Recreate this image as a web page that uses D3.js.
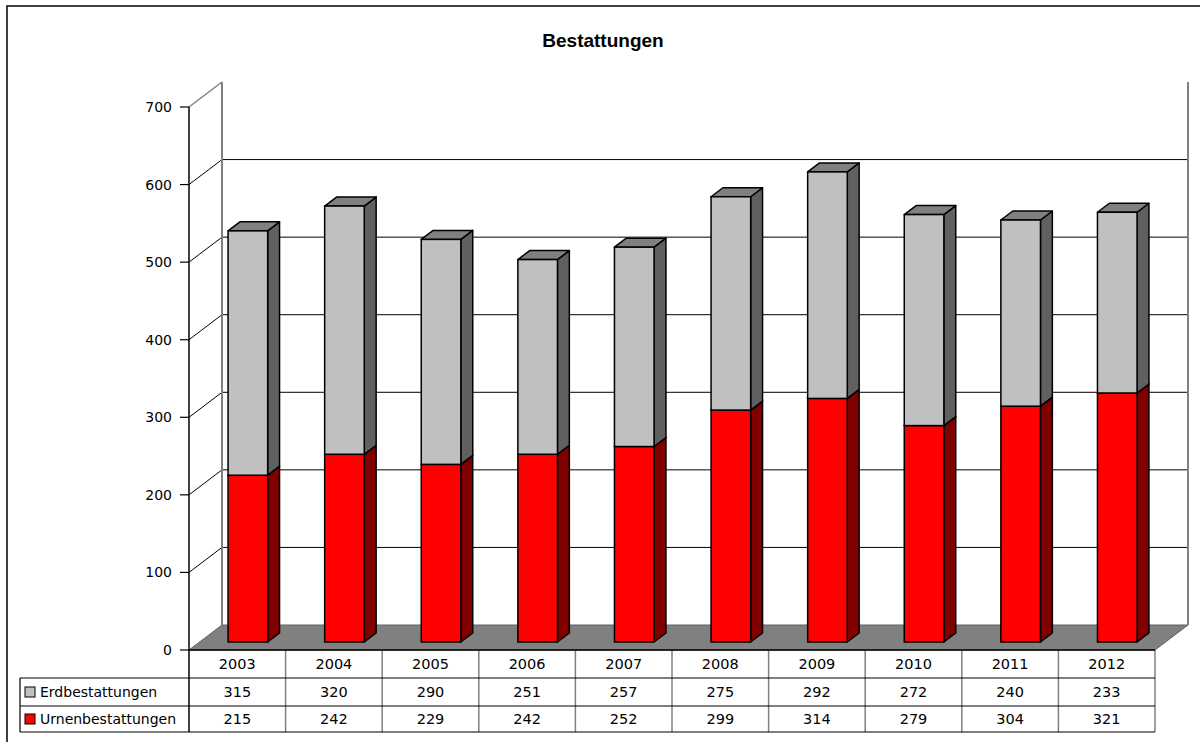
<!DOCTYPE html>
<html>
<head>
<meta charset="utf-8">
<script src="https://cdn.jsdelivr.net/npm/d3@7"></script>
<style>
  body { margin: 0; background: #fff; }
  svg { display: block; }
</style>
</head>
<body>
<script>
// Daten
const years = ["2003", "2004", "2005", "2006", "2007", "2008", "2009", "2010", "2011", "2012"];
const erd = [315, 320, 290, 251, 257, 275, 292, 272, 240, 233];
const urnen = [215, 242, 229, 242, 252, 299, 314, 279, 304, 321];
const yTicks = [0, 100, 200, 300, 400, 500, 600, 700];
const seriesNames = ["Erdbestattungen", "Urnenbestattungen"];
const seriesColors = { front: ["#c0c0c0", "#ff0000"], side: ["#606060", "#800000"], top: ["#808080", "#a00000"] };

const width = 1200, height = 742;
const font = "DejaVu Sans, Verdana, sans-serif";

// Plotbereich (vordere Ebene)
const x0 = 189, x1 = 1155, yBottom = 650, yTop = 107;
// 3D-Tiefe
const DX = 33, DY = -25;
const off = t => [DX * t, DY * t];
const t0 = 0.32, t1 = 0.68; // Balkentiefe

const x = d3.scaleBand().domain(years).range([x0, x1]).paddingInner(0.59).paddingOuter(0.295);
const y = d3.scaleLinear().domain([0, 700]).range([yBottom, yTop]);

const svg = d3.select("body").append("svg")
    .attr("width", width).attr("height", height)
    .attr("viewBox", `0 0 ${width} ${height}`);

// Rahmen
svg.append("rect")
    .attr("x", 7).attr("y", 6).attr("width", width + 10).attr("height", height + 10)
    .attr("fill", "none").attr("stroke", "#000").attr("stroke-width", 1.5);

// Titel
svg.append("text")
    .attr("x", 603).attr("y", 47)
    .attr("text-anchor", "middle")
    .attr("font-family", "Liberation Sans, Arial, sans-serif")
    .attr("font-weight", "bold")
    .attr("font-size", 19)
    .text("Bestattungen");

// Bodenfläche
const [fx, fy] = off(1);
svg.append("polygon")
    .attr("points", [[x0, yBottom], [x1, yBottom], [x1 + fx, yBottom + fy], [x0 + fx, yBottom + fy]].join(" "))
    .attr("fill", "#808080").attr("stroke", "#606060").attr("stroke-width", 1);

// Gitterlinien (Rückwand + Seitenwand)
const grid = svg.append("g");
yTicks.filter(v => v > 0 && v < 700).forEach(v => {
    grid.append("line")
        .attr("x1", x0 + fx).attr("x2", x1 + fx)
        .attr("y1", y(v) + fy).attr("y2", y(v) + fy)
        .attr("stroke", "#000").attr("stroke-width", 1);
    grid.append("line")
        .attr("x1", x0).attr("x2", x0 + fx)
        .attr("y1", y(v)).attr("y2", y(v) + fy)
        .attr("stroke", "#000").attr("stroke-width", 1);
});
// Wandkanten
grid.append("line").attr("x1", x0).attr("y1", y(700)).attr("x2", x0 + fx).attr("y2", y(700) + fy)
    .attr("stroke", "#808080").attr("stroke-width", 1.5);
grid.append("line").attr("x1", x0 + fx).attr("y1", y(700) + fy).attr("x2", x0 + fx).attr("y2", yBottom + fy)
    .attr("stroke", "#808080").attr("stroke-width", 2);
grid.append("line").attr("x1", x1 + fx).attr("y1", y(700) + fy).attr("x2", x1 + fx).attr("y2", yBottom + fy)
    .attr("stroke", "#808080").attr("stroke-width", 2);

// Balken
const bars = svg.append("g");
function drawBox(xl, w, v0, v1, si) {
    const [ax, ay] = off(t0), [bx, by] = off(t1);
    const xa = xl + ax, xb = xa + w;
    const yLo = y(v0) + ay, yHi = y(v1) + ay;
    const ddx = bx - ax, ddy = by - ay;
    // Seite
    bars.append("polygon")
        .attr("points", [[xb, yHi], [xb + ddx, yHi + ddy], [xb + ddx, yLo + ddy], [xb, yLo]].join(" "))
        .attr("fill", seriesColors.side[si]).attr("stroke", "#000").attr("stroke-width", 1.5)
        .attr("stroke-linejoin", "round");
    // Oberseite
    bars.append("polygon")
        .attr("points", [[xa, yHi], [xa + ddx, yHi + ddy], [xb + ddx, yHi + ddy], [xb, yHi]].join(" "))
        .attr("fill", seriesColors.top[si]).attr("stroke", "#000").attr("stroke-width", 1.5)
        .attr("stroke-linejoin", "round");
    // Vorderseite
    bars.append("rect")
        .attr("x", xa).attr("y", yHi).attr("width", w).attr("height", yLo - yHi)
        .attr("fill", seriesColors.front[si]).attr("stroke", "#000").attr("stroke-width", 1.5);
}
years.forEach((yr, i) => {
    const xl = x(yr), w = x.bandwidth();
    drawBox(xl, w, 0, urnen[i], 1);
    drawBox(xl, w, urnen[i], urnen[i] + erd[i], 0);
});

// Y-Achse
svg.append("line").attr("x1", x0).attr("x2", x0).attr("y1", yTop).attr("y2", yBottom)
    .attr("stroke", "#000").attr("stroke-width", 1.5);
const yAxis = svg.append("g");
yTicks.forEach(v => {
    yAxis.append("line").attr("x1", x0 - 9).attr("x2", x0).attr("y1", y(v)).attr("y2", y(v))
        .attr("stroke", "#000").attr("stroke-width", 1.2);
    yAxis.append("text")
        .attr("x", x0 - 17).attr("y", y(v)).attr("dy", "0.36em")
        .attr("text-anchor", "end")
        .attr("font-family", font).attr("font-size", 14)
        .text(v);
});

// Datentabelle
const rowY = [650, 678, 706, 732];
const table = svg.append("g");
const step = x.step();
const colX = years.map((d, i) => x0 + i * step);
// vertikale Trennlinien
colX.slice(1).forEach(cx => {
    table.append("line").attr("x1", cx).attr("x2", cx).attr("y1", rowY[0]).attr("y2", rowY[3])
        .attr("stroke", "#808080").attr("stroke-width", 1.5);
});
table.append("line").attr("x1", x1).attr("x2", x1).attr("y1", rowY[0]).attr("y2", rowY[3])
    .attr("stroke", "#808080").attr("stroke-width", 1.5);
// horizontale Linien
table.append("line").attr("x1", x0).attr("x2", x1).attr("y1", rowY[0]).attr("y2", rowY[0])
    .attr("stroke", "#000").attr("stroke-width", 1.5);
[1, 2, 3].forEach(r => {
    table.append("line").attr("x1", 20).attr("x2", x1).attr("y1", rowY[r]).attr("y2", rowY[r])
        .attr("stroke", "#000").attr("stroke-width", 1.2);
});
table.append("line").attr("x1", x0).attr("x2", x0).attr("y1", rowY[0]).attr("y2", rowY[3])
    .attr("stroke", "#000").attr("stroke-width", 1.5);
table.append("line").attr("x1", 20).attr("x2", 20).attr("y1", rowY[1]).attr("y2", rowY[3])
    .attr("stroke", "#000").attr("stroke-width", 1.2);

// Kopfzeile
years.forEach((yr, i) => {
    table.append("text")
        .attr("x", colX[i] + step / 2).attr("y", (rowY[0] + rowY[1]) / 2).attr("dy", "0.36em")
        .attr("text-anchor", "middle")
        .attr("font-family", font).attr("font-size", 14.5)
        .text(yr);
});
// Datenzeilen
[erd, urnen].forEach((vals, r) => {
    const cy = (rowY[r + 1] + rowY[r + 2]) / 2;
    table.append("rect")
        .attr("x", 25).attr("y", cy - 5).attr("width", 10).attr("height", 10)
        .attr("fill", seriesColors.front[r]).attr("stroke", "#000").attr("stroke-width", 1);
    table.append("text")
        .attr("x", 40).attr("y", cy).attr("dy", "0.36em")
        .attr("font-family", font).attr("font-size", 14)
        .text(seriesNames[r]);
    vals.forEach((v, i) => {
        table.append("text")
            .attr("x", colX[i] + step / 2).attr("y", cy).attr("dy", "0.36em")
            .attr("text-anchor", "middle")
            .attr("font-family", font).attr("font-size", 14.5)
            .text(v);
    });
});
</script>
</body>
</html>
